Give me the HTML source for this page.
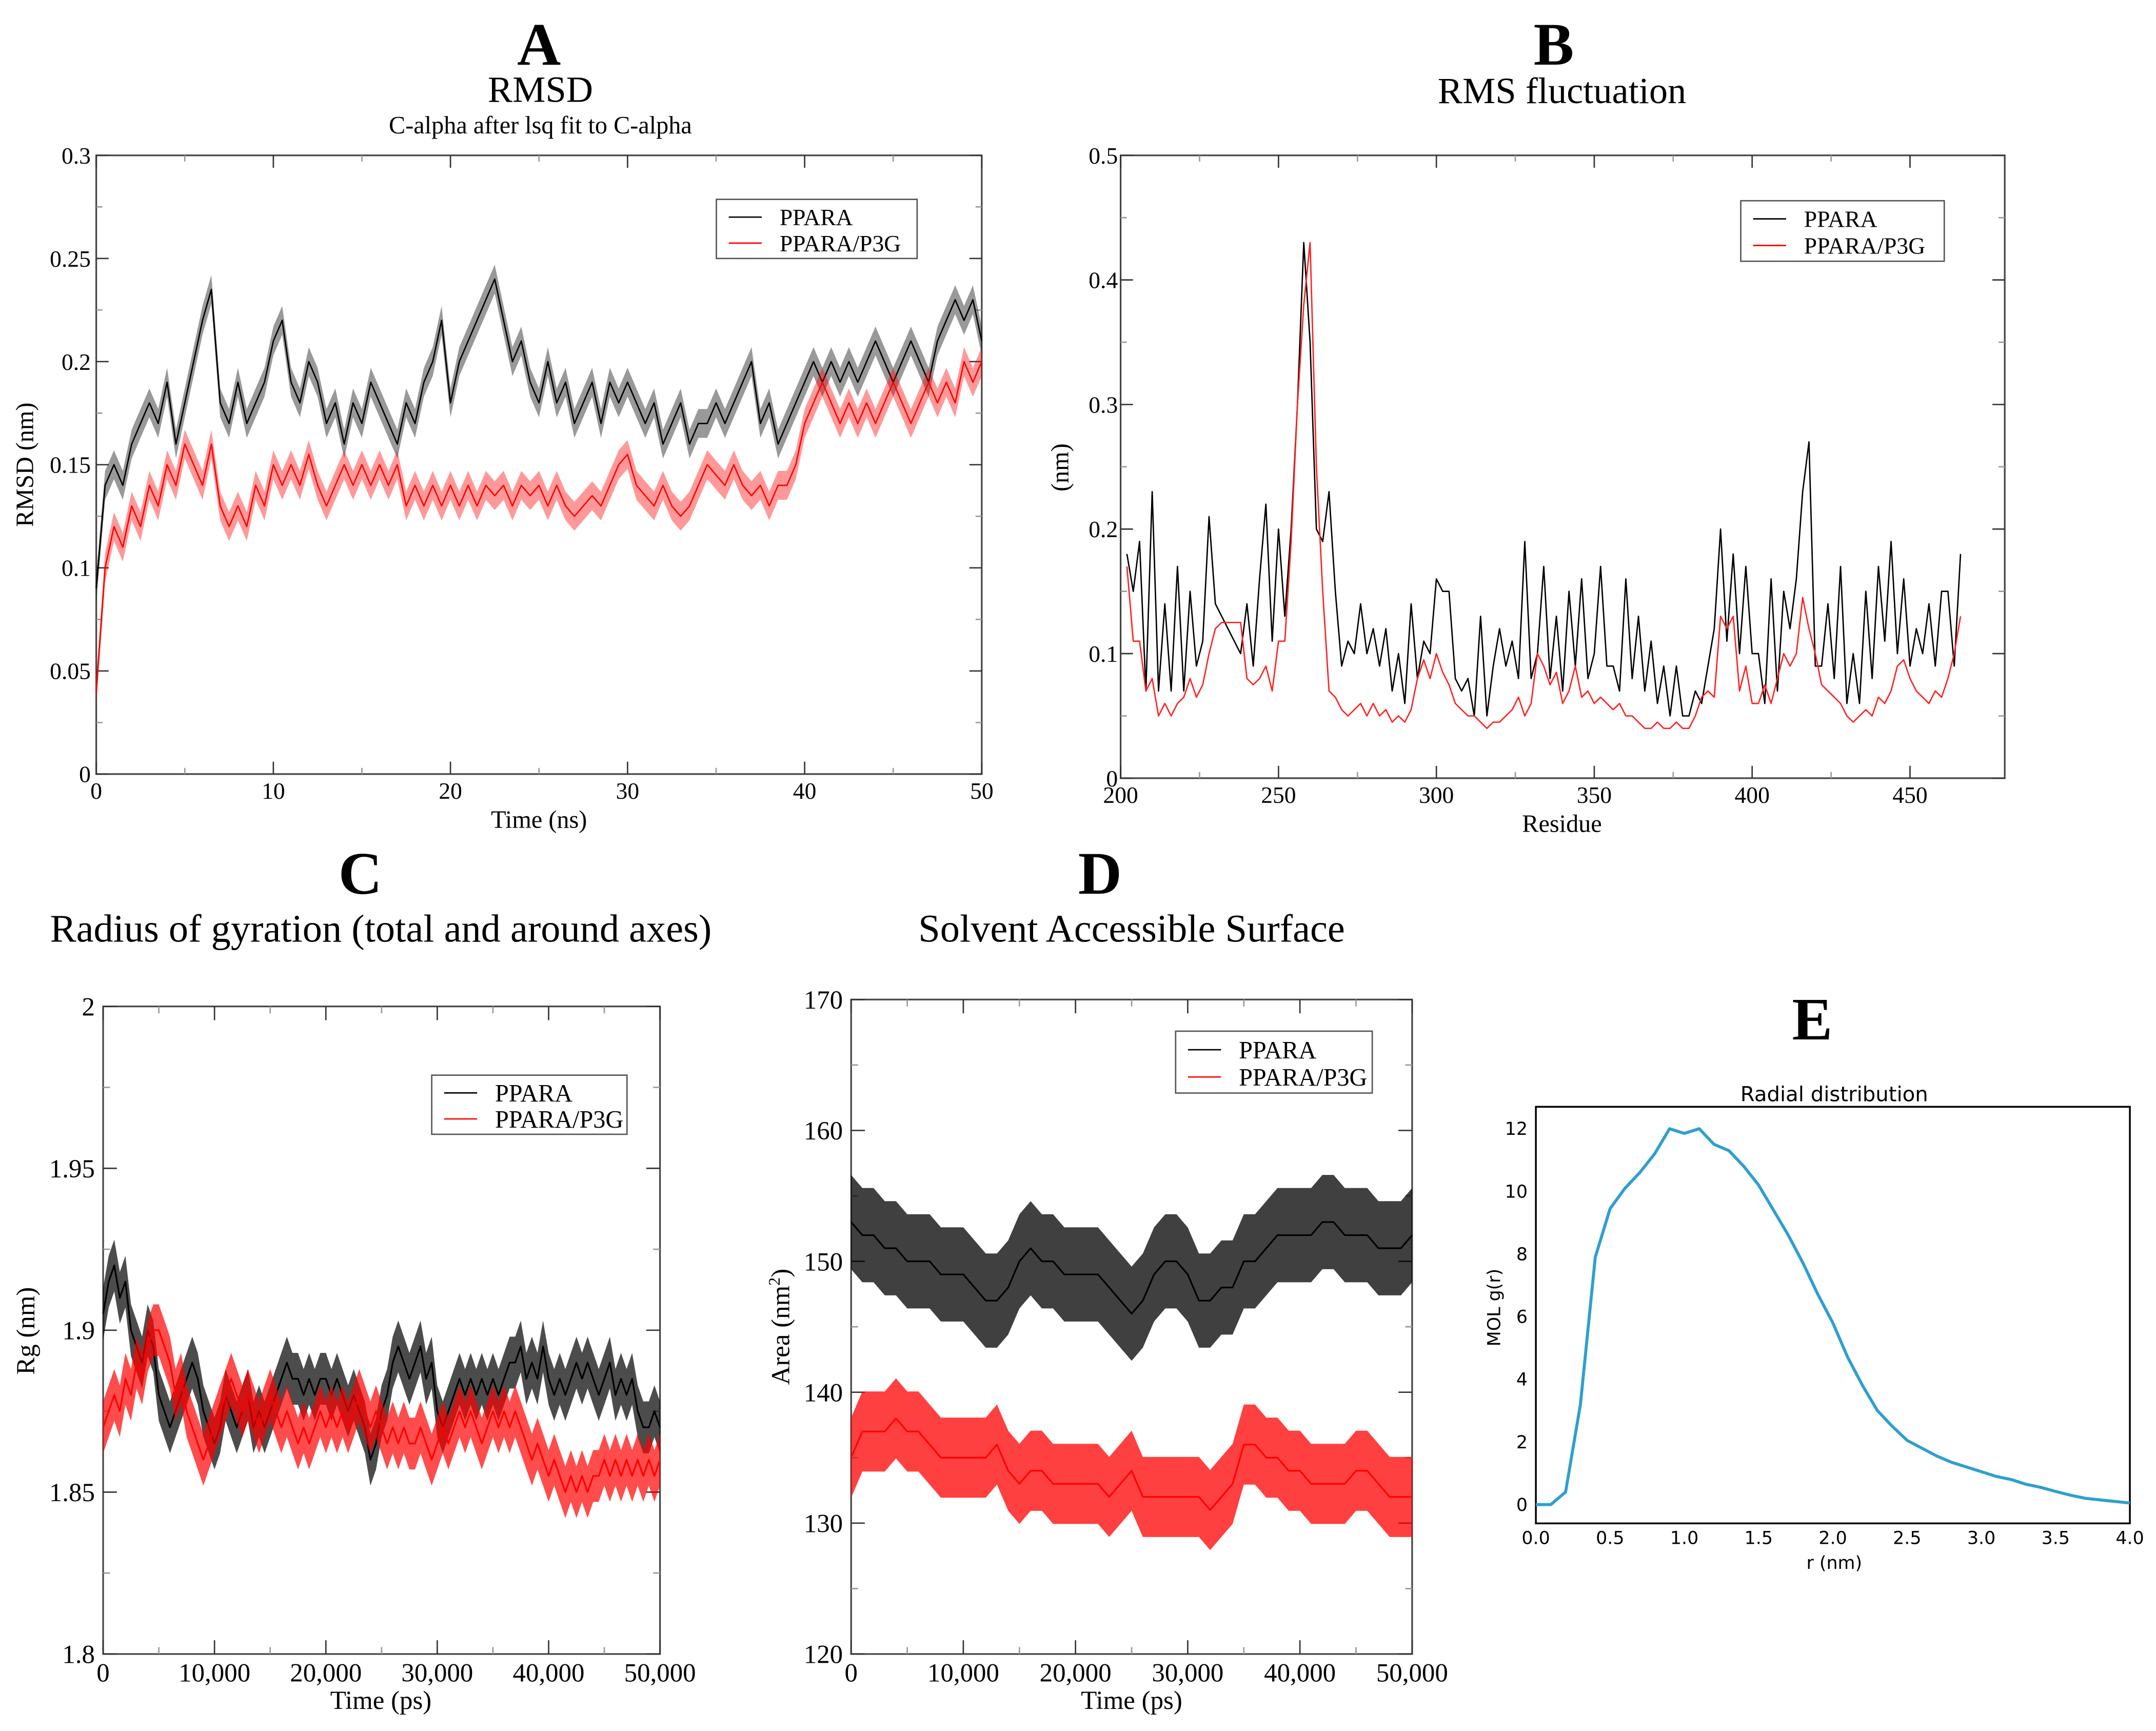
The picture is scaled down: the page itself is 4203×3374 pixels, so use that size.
<!DOCTYPE html>
<html><head><meta charset="utf-8"><style>
html,body{margin:0;padding:0;background:#fff;}
svg{display:block;}
.serif{font-family:"Liberation Serif",serif;}
.sans{font-family:"DejaVu Sans","Liberation Sans",sans-serif;}
</style></head><body>
<svg id="fig" xmlns="http://www.w3.org/2000/svg" width="4203" height="3374" viewBox="0 0 1568 1259" preserveAspectRatio="none">
<rect x="0" y="0" width="1568" height="1259" fill="#fff"/>
<g class="serif" fill="#000" text-anchor="middle">
<text x="392" y="47" font-size="44" font-weight="bold">A</text>
<text x="393" y="74" font-size="27">RMSD</text>
<text x="393" y="97" font-size="18">C-alpha after lsq fit to C-alpha</text>
<text x="392" y="602" font-size="18">Time (ns)</text>
<text transform="translate(24,338) rotate(-90)" font-size="18">RMSD (nm)</text>

<text x="1130" y="47" font-size="44" font-weight="bold">B</text>
<text x="1136" y="75" font-size="27">RMS fluctuation</text>
<text x="1136" y="605" font-size="18">Residue</text>
<text transform="translate(777,340) rotate(-90)" font-size="18">(nm)</text>

<text x="262" y="650" font-size="44" font-weight="bold">C</text>
<text x="277" y="685" font-size="28.5">Radius of gyration (total and around axes)</text>
<text x="277" y="1243" font-size="19">Time (ps)</text>
<text transform="translate(25,968) rotate(-90)" font-size="19">Rg (nm)</text>

<text x="800" y="650" font-size="44" font-weight="bold">D</text>
<text x="823" y="685" font-size="28.5">Solvent Accessible Surface</text>
<text x="823" y="1243" font-size="19">Time (ps)</text>
<text transform="translate(574,965) rotate(-90)" font-size="19">Area (nm<tspan dy="-7" font-size="12">2</tspan><tspan dy="7">)</tspan></text>

<text x="1318" y="756" font-size="44" font-weight="bold">E</text>
</g>
<g class="sans" fill="#000" text-anchor="middle">
<text x="1334" y="801" font-size="15">Radial distribution</text>
<text x="1334" y="1141" font-size="13">r (nm)</text>
<text transform="translate(1091,951) rotate(-90)" font-size="13">MOL g(r)</text>
</g>
<g id="plots"></g>
</svg>
<script>
// ---------- Panel A data (RMSD, 0-50 ns) ----------
const aTickLabelsX = ["0","10","20","30","40","50"];
const aTickLabelsY = ["0","0.05","0.1","0.15","0.2","0.25","0.3"];
const aPPARA = [0.09,0.14,0.15,0.14,0.16,0.17,0.18,0.17,0.19,0.16,0.18,0.20,0.22,0.235,0.18,0.17,0.19,0.17,0.18,0.19,0.21,0.22,0.19,0.18,0.20,0.19,0.17,0.18,0.16,0.18,0.17,0.19,0.18,0.17,0.16,0.18,0.17,0.19,0.20,0.22,0.18,0.20,0.21,0.22,0.23,0.24,0.22,0.20,0.21,0.19,0.18,0.20,0.18,0.19,0.17,0.18,0.19,0.17,0.19,0.18,0.19,0.18,0.17,0.18,0.16,0.17,0.18,0.16,0.17,0.17,0.18,0.17,0.18,0.19,0.20,0.17,0.18,0.16,0.17,0.18,0.19,0.20,0.19,0.20,0.19,0.20,0.19,0.20,0.21,0.20,0.19,0.20,0.21,0.20,0.19,0.21,0.22,0.23,0.22,0.23,0.21];
const aP3G = [0.04,0.10,0.12,0.11,0.13,0.12,0.14,0.13,0.15,0.14,0.16,0.15,0.14,0.16,0.13,0.12,0.13,0.12,0.14,0.13,0.15,0.14,0.15,0.14,0.155,0.14,0.13,0.14,0.15,0.14,0.15,0.14,0.15,0.14,0.15,0.13,0.14,0.13,0.14,0.13,0.14,0.13,0.14,0.13,0.14,0.135,0.14,0.13,0.14,0.135,0.14,0.13,0.14,0.13,0.125,0.13,0.135,0.13,0.14,0.15,0.155,0.14,0.135,0.13,0.14,0.13,0.125,0.13,0.14,0.15,0.145,0.14,0.15,0.14,0.135,0.14,0.13,0.14,0.14,0.15,0.17,0.18,0.19,0.18,0.17,0.18,0.17,0.18,0.17,0.18,0.19,0.18,0.17,0.18,0.19,0.18,0.19,0.18,0.20,0.19,0.20];
const aSpread = 0.007;

// ---------- Panel B data (RMSF, residues 202-466 step 2) ----------
const bTickLabelsX = ["200","250","300","350","400","450"];
const bTickLabelsY = ["0","0.1","0.2","0.3","0.4","0.5"];
const bResStart = 202;
const bResStep = 2;
const bPPARA = [.18,.15,.19,.07,.23,.07,.14,.07,.17,.07,.15,.09,.11,.21,.14,.13,.12,.11,.10,.14,.09,.16,.22,.11,.20,.13,.20,.30,.43,.35,.20,.19,.23,.15,.09,.11,.10,.14,.10,.12,.09,.12,.07,.10,.06,.14,.08,.11,.10,.16,.15,.15,.08,.07,.08,.05,.13,.05,.09,.12,.09,.11,.08,.19,.08,.10,.17,.08,.13,.07,.15,.09,.16,.08,.10,.17,.09,.09,.07,.16,.08,.13,.07,.11,.06,.09,.05,.09,.05,.05,.07,.06,.09,.12,.20,.11,.18,.10,.17,.10,.10,.06,.16,.07,.15,.12,.16,.23,.27,.09,.09,.14,.08,.17,.06,.10,.06,.15,.08,.17,.11,.19,.10,.16,.09,.12,.10,.14,.09,.15,.15,.09,.18];
const bP3G = [.17,.11,.11,.07,.08,.05,.06,.05,.06,.065,.08,.065,.075,.10,.12,.125,.125,.125,.125,.08,.075,.08,.09,.07,.11,.11,.19,.30,.38,.43,.25,.15,.07,.065,.055,.05,.055,.06,.05,.06,.05,.055,.045,.05,.045,.055,.08,.095,.08,.10,.085,.075,.06,.055,.05,.05,.045,.04,.045,.045,.05,.055,.065,.05,.06,.10,.09,.075,.085,.06,.07,.09,.065,.07,.06,.065,.06,.055,.06,.05,.05,.045,.04,.04,.045,.04,.04,.045,.04,.04,.05,.065,.07,.065,.13,.12,.13,.07,.09,.06,.06,.075,.06,.08,.10,.09,.10,.145,.12,.10,.075,.07,.065,.06,.05,.045,.05,.055,.05,.065,.06,.07,.09,.095,.08,.07,.065,.06,.07,.065,.08,.10,.13];

// ---------- Panel C data (Rg, 0-50000 ps) ----------
const cTickLabelsX = ["0","10,000","20,000","30,000","40,000","50,000"];
const cTickLabelsY = ["1.8","1.85","1.9","1.95","2"];
const cPPARA = [1.905,1.915,1.92,1.91,1.915,1.9,1.895,1.89,1.9,1.895,1.88,1.875,1.87,1.875,1.88,1.885,1.89,1.885,1.875,1.87,1.865,1.87,1.88,1.875,1.87,1.875,1.88,1.87,1.875,1.87,1.875,1.88,1.885,1.89,1.885,1.885,1.88,1.885,1.88,1.885,1.885,1.88,1.885,1.88,1.875,1.88,1.875,1.87,1.86,1.865,1.875,1.88,1.89,1.895,1.89,1.885,1.89,1.895,1.885,1.89,1.875,1.87,1.875,1.88,1.885,1.88,1.885,1.88,1.885,1.88,1.885,1.88,1.885,1.89,1.89,1.895,1.885,1.89,1.885,1.895,1.885,1.88,1.885,1.88,1.885,1.89,1.885,1.89,1.885,1.88,1.885,1.89,1.88,1.885,1.88,1.885,1.875,1.87,1.87,1.875,1.87];
const cP3G = [1.87,1.875,1.88,1.875,1.885,1.88,1.89,1.885,1.895,1.9,1.9,1.895,1.89,1.88,1.885,1.875,1.87,1.865,1.86,1.865,1.87,1.875,1.88,1.885,1.88,1.875,1.88,1.875,1.87,1.875,1.88,1.875,1.87,1.875,1.87,1.865,1.87,1.865,1.87,1.875,1.87,1.875,1.87,1.875,1.87,1.875,1.88,1.875,1.87,1.875,1.87,1.865,1.87,1.865,1.87,1.865,1.865,1.87,1.865,1.86,1.865,1.87,1.865,1.87,1.875,1.87,1.875,1.87,1.865,1.87,1.875,1.87,1.875,1.87,1.875,1.87,1.865,1.86,1.865,1.86,1.855,1.86,1.855,1.85,1.855,1.85,1.855,1.85,1.855,1.855,1.86,1.855,1.86,1.855,1.86,1.855,1.86,1.855,1.86,1.855,1.86];
const cSpread = 0.008;

// ---------- Panel D data (SASA, 0-50000 ps) ----------
const dTickLabelsX = ["0","10,000","20,000","30,000","40,000","50,000"];
const dTickLabelsY = ["120","130","140","150","160","170"];
const dPPARA = [153,152,152,151,151,150,150,150,149,149,149,148,147,147,148,150,151,150,150,149,149,149,149,148,147,146,147,149,150,150,149,147,147,148,148,150,150,151,152,152,152,152,153,153,152,152,152,151,151,151,152];
const dP3G = [135,137,137,137,138,137,137,136,135,135,135,135,135,136,134,133,134,134,133,133,133,133,133,132,133,134,132,132,132,132,132,132,131,132,133,136,136,135,135,134,134,133,133,133,133,134,134,133,132,132,132];
const dSpread = 3.6;

// ---------- Panel E data (RDF, r = 0..4 step 0.1) ----------
const eTickLabelsX = ["0.0","0.5","1.0","1.5","2.0","2.5","3.0","3.5","4.0"];
const eTickLabelsY = ["0","2","4","6","8","10","12"];
const eRStep = 0.1;
const eGr = [0,0,0.4,3.2,7.9,9.45,10.1,10.6,11.2,12.0,11.85,12.0,11.5,11.3,10.8,10.2,9.4,8.6,7.7,6.7,5.8,4.7,3.8,3.0,2.5,2.05,1.8,1.55,1.35,1.2,1.05,0.9,0.8,0.65,0.55,0.42,0.3,0.2,0.15,0.1,0.05];

const NS = "http://www.w3.org/2000/svg";
const root = document.getElementById("plots");
function mk(tag, attrs, parent) {
  const el = document.createElementNS(NS, tag);
  for (const k in attrs) el.setAttribute(k, attrs[k]);
  (parent || root).appendChild(el);
  return el;
}

function axes(p) {
  const g = mk("g", {});
  
  
  const sx = v => p.x0 + (v - p.xmin) / (p.xmax - p.xmin) * (p.x1 - p.x0);
  const sy = v => p.y1 - (v - p.ymin) / (p.ymax - p.ymin) * (p.y1 - p.y0);
  const frame = mk("rect", {x:p.x0, y:p.y0, width:p.x1-p.x0, height:p.y1-p.y0, fill:"none", stroke:p.frameColor||"#444", "stroke-width":p.frameW||1.2}, g);
  
  
  const tl = p.tickLen || 0;
  p.xLabels.forEach((lab, i) => {
    const v = p.xmin + i * p.xStep;
    const x = sx(v);
    if (tl) {
      const t = mk("path", {d:`M${x},${p.y1}v${-tl}M${x},${p.y0}v${tl}`, stroke:"#333", "stroke-width":1}, g);
      
      
      if (i < p.xLabels.length - 1) {
        const xm = sx(v + p.xStep / 2);
        const m = mk("path", {d:`M${xm},${p.y1}v${-tl/2}M${xm},${p.y0}v${tl/2}`, stroke:"#999", "stroke-width":1}, g);
        
        
      }
    }
    const tx = mk("text", {x:x, y:p.y1 + p.xLabOff, "text-anchor":"middle", "font-size":p.fs, class:p.font}, g);
    tx.textContent = lab;
    
    
  });
  p.yLabels.forEach((lab, i) => {
    const v = p.yBase + i * p.yStep;
    const y = sy(v);
    if (tl) {
      const t = mk("path", {d:`M${p.x0},${y}h${tl}M${p.x1},${y}h${-tl}`, stroke:"#333", "stroke-width":1}, g);
      
      
      if (i < p.yLabels.length - 1) {
        const ym = sy(v + p.yStep / 2);
        const m = mk("path", {d:`M${p.x0},${ym}h${tl/2}M${p.x1},${ym}h${-tl/2}`, stroke:"#999", "stroke-width":1}, g);
        
        
      }
    }
    const ty = mk("text", {x:p.x0 - p.yLabOff, y:y + p.fs * 0.35, "text-anchor":"end", "font-size":p.fs, class:p.font}, g);
    ty.textContent = lab;
    
    
  });
  return {sx, sy};
}

function linePts(vals, xOf, sx, sy) {
  return vals.map((v, i) => sx(xOf(i)).toFixed(2) + "," + sy(v).toFixed(2)).join(" ");
}
function bandPts(vals, xOf, sx, sy, s) {
  const up = vals.map((v, i) => sx(xOf(i)).toFixed(2) + "," + sy(v + s).toFixed(2));
  const lo = vals.map((v, i) => sx(xOf(i)).toFixed(2) + "," + sy(v - s).toFixed(2)).reverse();
  return up.concat(lo).join(" ");
}

function legend(name, x, y, w, h, fs) {
  const g = mk("g", {});
  
  
  const box = mk("rect", {x:x, y:y, width:w, height:h, fill:"#fff", stroke:"#555", "stroke-width":1}, g);
  
  
  const entries = [["PPARA", "#000"], ["PPARA/P3G", "#f00"]];
  entries.forEach((e, i) => {
    const yy = y + h * (0.3 + 0.44 * i);
    const ln = mk("line", {x1:x + 9, x2:x + 33, y1:yy, y2:yy, stroke:e[1], "stroke-width":1}, g);
    
    
    const t = mk("text", {x:x + 46, y:yy + fs * 0.35, "font-size":fs, class:"serif"}, g);
    t.textContent = e[0];
    
    
  });
}

function series(name, vals, xOf, sc, color, spread, bandOpacity, sw) {
  if (spread) {
    const b = mk("polygon", {points: bandPts(vals, xOf, sc.sx, sc.sy, spread), fill:color, "fill-opacity":bandOpacity, stroke:"none"});
    
    
  }
  const l = mk("polyline", {points: linePts(vals, xOf, sc.sx, sc.sy), fill:"none", stroke:color, "stroke-width":sw, "stroke-linejoin":"round"});
  
  
}

// Panel A
const scA = axes({name:"panel-a", x0:70, x1:714, y0:113, y1:563, xmin:0, xmax:50, ymin:0, ymax:0.3, xStep:10, yBase:0, yStep:0.05, xLabels:aTickLabelsX, yLabels:aTickLabelsY, tickLen:9, fs:17, font:"serif", xLabOff:18, yLabOff:4});
series("panel-a-ppara", aPPARA, i => i * 50 / (aPPARA.length - 1), scA, "#000", aSpread, 0.4, 1);
series("panel-a-ppara-p3g", aP3G, i => i * 50 / (aP3G.length - 1), scA, "#f00", aSpread, 0.4, 1);
legend("panel-a", 521, 145, 146, 43, 17);

// Panel B
const scB = axes({name:"panel-b", x0:815, x1:1458, y0:113, y1:566, xmin:200, xmax:480, ymin:0, ymax:0.5, xStep:50, yBase:0, yStep:0.1, xLabels:bTickLabelsX, yLabels:bTickLabelsY, tickLen:9, fs:17, font:"serif", xLabOff:18, yLabOff:2});
series("panel-b-ppara", bPPARA, i => bResStart + i * bResStep, scB, "#000", 0, 0, 1);
series("panel-b-ppara-p3g", bP3G, i => bResStart + i * bResStep, scB, "#f22", 0, 0, 1);
legend("panel-b", 1266, 146, 148, 44, 17);

// Panel C
const scC = axes({name:"panel-c", x0:75, x1:480, y0:732, y1:1203, xmin:0, xmax:50000, ymin:1.8, ymax:2.0, xStep:10000, yBase:1.8, yStep:0.05, xLabels:cTickLabelsX, yLabels:cTickLabelsY, tickLen:10, fs:19, font:"serif", xLabOff:20, yLabOff:6});
series("panel-c-ppara", cPPARA, i => i * 50000 / (cPPARA.length - 1), scC, "#000", cSpread, 0.7, 1.2);
series("panel-c-ppara-p3g", cP3G, i => i * 50000 / (cP3G.length - 1), scC, "#f00", cSpread, 0.7, 1.2);
legend("panel-c", 314, 782, 142, 43, 18);

// Panel D
const scD = axes({name:"panel-d", x0:619, x1:1027, y0:727, y1:1203, xmin:0, xmax:50000, ymin:120, ymax:170, xStep:10000, yBase:120, yStep:10, xLabels:dTickLabelsX, yLabels:dTickLabelsY, tickLen:10, fs:19, font:"serif", xLabOff:20, yLabOff:6});
series("panel-d-ppara", dPPARA, i => i * 50000 / (dPPARA.length - 1), scD, "#000", dSpread, 0.75, 1.2);
series("panel-d-ppara-p3g", dP3G, i => i * 50000 / (dP3G.length - 1), scD, "#f00", dSpread * 0.85, 0.75, 1.2);
legend("panel-d", 855, 750, 143, 45, 18);

// Panel E
const scE = axes({name:"panel-e", x0:1117, x1:1549, y0:805, y1:1108, xmin:0, xmax:4, ymin:-0.6, ymax:12.7, xStep:0.5, yBase:0, yStep:2, xLabels:eTickLabelsX, yLabels:eTickLabelsY, tickLen:0, fs:13, font:"sans", xLabOff:15, yLabOff:6, frameColor:"#000", frameW:1.3});
series("panel-e-rdf", eGr, i => i * eRStep, scE, "#2f9fcf", 0, 0, 2.2);
</script>
</body></html>
